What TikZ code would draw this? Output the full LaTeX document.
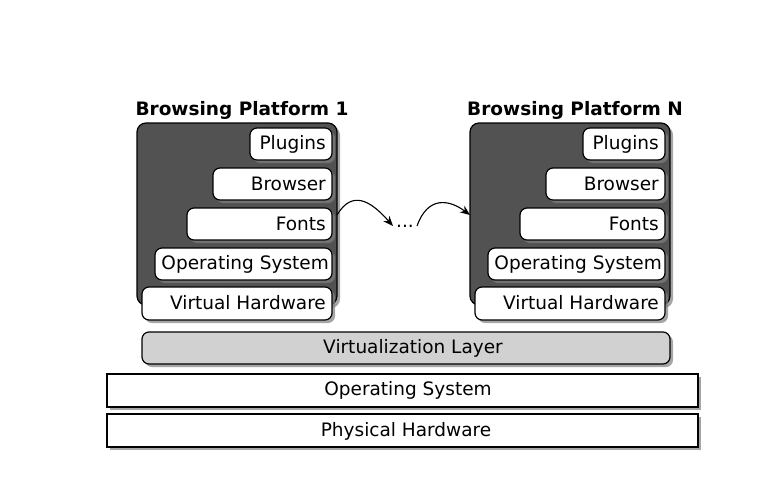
\documentclass[tikz,border=0pt]{standalone}
\usepackage{fontspec}
\setmainfont{DejaVu Sans}
\usetikzlibrary{shadows,arrows.meta}
\newcommand{\fz}{\fontsize{18.5}{21}\selectfont}
\begin{document}
\begin{tikzpicture}[x=1pt,y=-1pt,
  sh/.style={drop shadow={shadow xshift=3pt,shadow yshift=-3pt,opacity=0.7}},
  plat/.style={draw=black,line width=1.2pt,fill=black!68,rounded corners=9pt,sh},
  lay/.style={draw=black,line width=1.2pt,fill=white,rounded corners=7pt,sh},
  base/.style={draw=black,line width=1.2pt,fill=white,sh},
  txt/.style={font=\fz,inner sep=0pt},
  ttl/.style={font=\bfseries\fz},
  arr/.style={-{Stealth[length=10pt,width=8pt]},line width=1.1pt}]
\useasboundingbox (0,0) rectangle (768,480);
\foreach \dx/\n/\t in {0/a/1,333/b/N}{
  \begin{scope}[xshift=\dx]
  \node[ttl] (t\n) at (242,110) {Browsing Platform \t};
  \draw[plat] (137,123) rectangle (337,305);
  \coordinate (pr\n) at (337,215);
  \coordinate (pl\n) at (137,215);
  \draw[lay] (250,128) rectangle (332,160);
  \node[txt,anchor=east] (plug\n) at (326,144) {Plugins};
  \draw[lay] (213,168) rectangle (332,200);
  \node[txt,anchor=east] (br\n) at (326,184) {Browser};
  \draw[lay] (187,208) rectangle (332,240);
  \node[txt,anchor=east] (fo\n) at (326,224) {Fonts};
  \draw[lay] (155,248) rectangle (332,280);
  \node[txt,anchor=east] (os\n) at (329,264) {Operating System};
  \draw[lay] (142,287) rectangle (332,320);
  \node[txt,anchor=east] (vh\n) at (326,303) {Virtual Hardware};
  \end{scope}}
\draw[lay,fill=black!18] (142,332) rectangle (670,364);
\node[txt] (vl) at (413,348) {Virtualization Layer};
\draw[base] (107,374) rectangle (698,407);
\node[txt] (hos) at (408,390) {Operating System};
\draw[base] (107,414) rectangle (698,447);
\node[txt] (ph) at (406,431) {Physical Hardware};
\node[txt] (dots) at (405,226) {...};
\draw[arr] (pra) .. controls (352,190) and (370,200) .. ([xshift=-3pt]dots.west);
\draw[arr] ([xshift=3pt]dots.east) .. controls (428,195) and (450,200) .. (plb);
\end{tikzpicture}
\end{document}
